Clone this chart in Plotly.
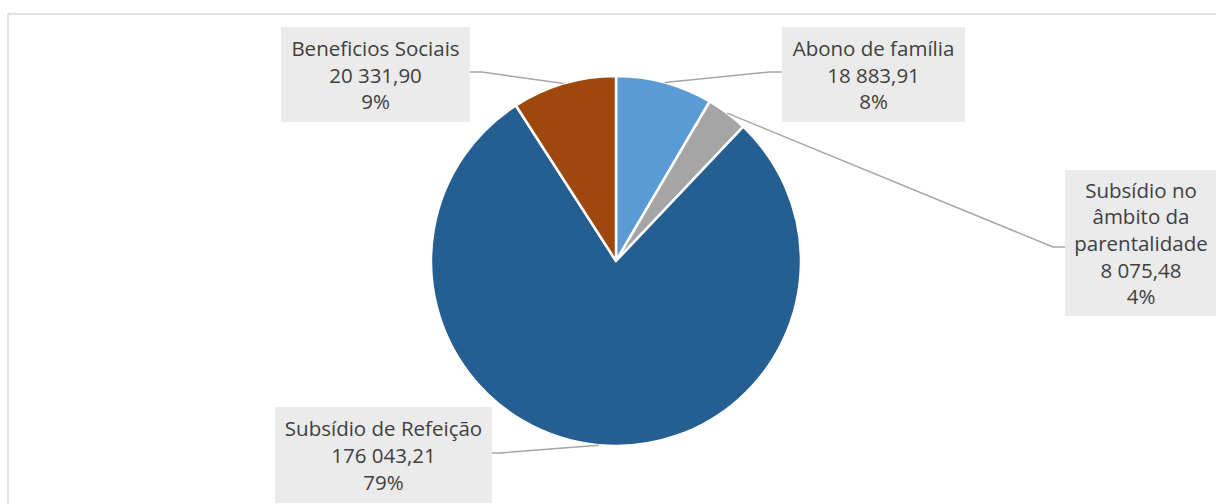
import math
import plotly.graph_objects as go

categories = ["Abono de família", "Subsídio no âmbito da parentalidade", "Subsídio de Refeição", "Beneficios Sociais"]
label_lines = ["Abono de família", "Subsídio no<br>âmbito da<br>parentalidade", "Subsídio de Refeição", "Beneficios Sociais"]
values = [18883.91, 8075.48, 176043.21, 20331.90]
value_labels = ["18 883,91", "8 075,48", "176 043,21", "20 331,90"]
colors = ["#5B9BD5", "#A5A5A5", "#255E91", "#9E480E"]

W, H = 1216, 504
CX, CY, R = 616, 261, 185

def px(x):
    return x / W

def py(y):
    return 1 - y / H

fig = go.Figure(go.Pie(
    labels=categories,
    values=values,
    sort=False,
    direction="clockwise",
    rotation=0,
    textinfo="none",
    hoverinfo="label+value+percent",
    marker=dict(colors=colors, line=dict(color="white", width=2.5)),
    domain=dict(x=[px(CX - R), px(CX + R)], y=[py(CY + R), py(CY - R)]),
    showlegend=False,
))

total = sum(values)
pcts = [f"{round(v / total * 100)}%" for v in values]

# label boxes: (center x, center y, width, height, elbow x, elbow y, box-edge x)
boxes = [
    (873.5, 74.5, 183, 95, 770, 72, 782),
    (1141, 243, 152, 146, 1053, 247, 1065),
    (383.5, 455, 217, 96, 500, 453, 492),
    (375.5, 74.5, 189, 95, 482, 72, 470),
]

shapes = [dict(type="rect", xref="paper", yref="paper",
               x0=px(8), x1=px(1222), y0=py(512), y1=py(14),
               line=dict(color="#D9D9D9", width=1.5), fillcolor="rgba(0,0,0,0)", layer="below")]
annotations = []
cum = 0
for i, v in enumerate(values):
    mid = (cum + v / 2) / total
    cum += v
    ang = 2 * math.pi * mid
    sx = CX + R * math.sin(ang)
    sy = CY - R * math.cos(ang)
    bx, by, bw, bh, ex, ey, edge = boxes[i]
    path = f"M {px(sx)} {py(sy)} L {px(ex)} {py(ey)} L {px(edge)} {py(ey)}"
    shapes.append(dict(type="path", xref="paper", yref="paper", path=path,
                       line=dict(color="#A6A6A6", width=1.5)))
    annotations.append(dict(
        x=px(bx), y=py(by), xref="paper", yref="paper",
        xanchor="center", yanchor="middle",
        text=f"{label_lines[i]}<br>{value_labels[i]}<br>{pcts[i]}",
        showarrow=False, align="center", valign="middle",
        width=bw, height=bh, bgcolor="#EBEBEB", borderpad=0, borderwidth=0,
        font=dict(family="Open Sans", size=20.5, color="#404040"),
    ))

fig.update_layout(
    width=W, height=H,
    margin=dict(l=0, r=0, t=0, b=0),
    paper_bgcolor="white", plot_bgcolor="white",
    shapes=shapes, annotations=annotations,
)

fig.write_html("out.html", config={"displayModeBar": False},
               post_script="document.body.style.margin='0';document.body.style.overflow='hidden';")
